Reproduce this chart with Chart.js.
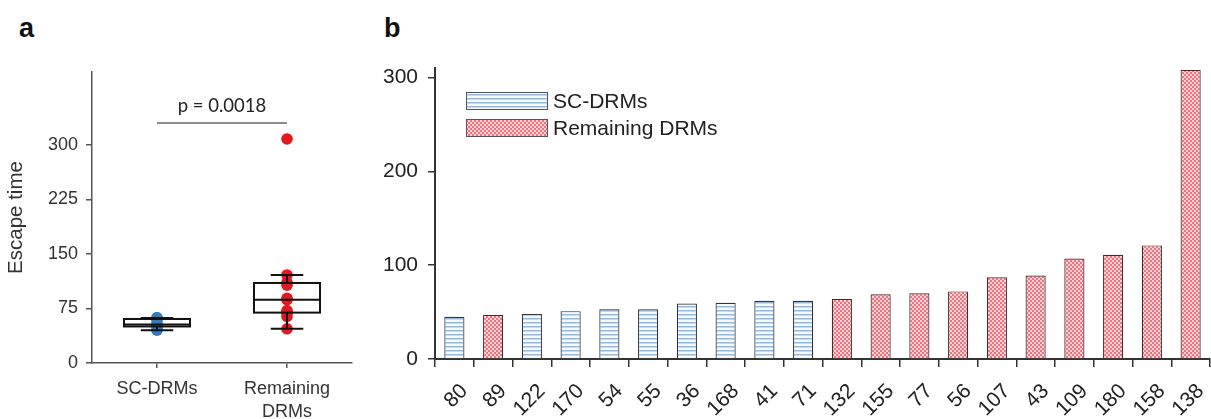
<!DOCTYPE html>
<html lang="en">
<head>
<meta charset="UTF-8">
<title>Escape time of DRMs</title>
<script src="https://cdn.jsdelivr.net/npm/chart.js"></script>
<style>
  html, body { margin: 0; padding: 0; background: #fff; }
  body { width: 1211px; height: 419px; position: relative; overflow: hidden; font-family: "Liberation Sans", Arial, sans-serif; }
  .panel-label { position: absolute; font-weight: bold; font-size: 27px; line-height: 27px; color: #111; }
  #wrapA { position: absolute; left: 0; top: 0; width: 360px; height: 419px; }
  #wrapB { position: absolute; left: 370px; top: 0; width: 841px; height: 419px; }
</style>
</head>
<body>
<div class="panel-label" style="left:19px;top:15px">a</div>
<div class="panel-label" style="left:384px;top:15px">b</div>
<div id="wrapA"><canvas id="chartA"></canvas></div>
<div id="wrapB"><canvas id="chartB"></canvas></div>

<script>
// DRMs in bar order, their escape time and group
var drmLabels = ['80', '89', '122', '170', '54', '55', '36', '168', '41', '71',
                 '132', '155', '77', '56', '107', '43', '109', '180', '158', '138'];
var escapeTimes = [45, 47, 48, 51, 53, 53, 59, 60, 62, 62,
                   64, 69, 70, 72, 87, 89, 107, 111, 121, 308];
var drmGroup = ['SC', 'R', 'SC', 'SC', 'SC', 'SC', 'SC', 'SC', 'SC', 'SC',
                'R', 'R', 'R', 'R', 'R', 'R', 'R', 'R', 'R', 'R'];

var groupKeys = ['SC', 'R'];
var groupNames = ['SC-DRMs', 'Remaining DRMs'];
var groupAxisLabels = ['SC-DRMs', ['Remaining', 'DRMs']];
var dotColors = ['#2f7cc2', '#e3191f'];

var ticksA = [0, 75, 150, 225, 300];
var ticksB = [0, 100, 200, 300];
var pText = 'p = 0.0018';
var pLevel = 330;

var FONT = '"Liberation Sans", Arial, sans-serif';
Chart.defaults.font.family = FONT;

// fill patterns for the bars
function stripes() {
  var c = document.createElement('canvas');
  c.width = 4; c.height = 4;
  var g = c.getContext('2d');
  g.fillStyle = '#f6f9fd';
  g.fillRect(0, 0, 4, 4);
  g.fillStyle = '#8dbbe6';
  g.fillRect(0, 2, 4, 1);
  g.fillStyle = '#c2daf2';
  g.fillRect(0, 3, 4, 1);
  return g.createPattern(c, 'repeat');
}
function checker() {
  var c = document.createElement('canvas');
  c.width = 4; c.height = 4;
  var g = c.getContext('2d');
  g.fillStyle = '#fbd2d6';
  g.fillRect(0, 0, 4, 4);
  g.fillStyle = '#f0737d';
  g.fillRect(0, 0, 2, 2);
  g.fillRect(2, 2, 2, 2);
  return g.createPattern(c, 'repeat');
}
var fills = [stripes(), checker()];

function valuesOf(key) {
  return escapeTimes.filter(function (v, i) { return drmGroup[i] === key; });
}

// quantile with (i - 0.5)/n positions, like matlab
function quantile(sorted, p) {
  var pos = p * sorted.length + 0.5;
  if (pos <= 1) return sorted[0];
  if (pos >= sorted.length) return sorted[sorted.length - 1];
  var lo = Math.floor(pos);
  return sorted[lo - 1] + (pos - lo) * (sorted[lo] - sorted[lo - 1]);
}

// ---------- panel a: boxes over the dots ----------
var boxPlugin = {
  id: 'boxPlugin',
  afterDatasetsDraw: function (chart) {
    var ctx = chart.ctx, xs = chart.scales.x, ys = chart.scales.y;
    ctx.save();
    ctx.strokeStyle = '#111';
    ctx.lineWidth = 2;
    groupKeys.forEach(function (key, gi) {
      var v = valuesOf(key).slice().sort(function (a, b) { return a - b; });
      var q1 = quantile(v, 0.25), med = quantile(v, 0.5), q3 = quantile(v, 0.75);
      var iqr = q3 - q1;
      var lo = v.filter(function (d) { return d >= q1 - 1.5 * iqr; })[0];
      var hiArr = v.filter(function (d) { return d <= q3 + 1.5 * iqr; });
      var hi = hiArr[hiArr.length - 1];
      var cx = xs.getPixelForValue(gi + 1);
      var bl = xs.getPixelForValue(gi + 1 - 0.254), br = xs.getPixelForValue(gi + 1 + 0.254);
      var cl = xs.getPixelForValue(gi + 1 - 0.125), cr = xs.getPixelForValue(gi + 1 + 0.125);
      ctx.beginPath();
      // whiskers
      ctx.moveTo(cx, ys.getPixelForValue(q3)); ctx.lineTo(cx, ys.getPixelForValue(hi));
      ctx.moveTo(cx, ys.getPixelForValue(q1)); ctx.lineTo(cx, ys.getPixelForValue(lo));
      ctx.moveTo(cl, ys.getPixelForValue(hi)); ctx.lineTo(cr, ys.getPixelForValue(hi));
      ctx.moveTo(cl, ys.getPixelForValue(lo)); ctx.lineTo(cr, ys.getPixelForValue(lo));
      // median
      ctx.moveTo(bl, ys.getPixelForValue(med)); ctx.lineTo(br, ys.getPixelForValue(med));
      ctx.stroke();
      ctx.strokeRect(bl, ys.getPixelForValue(q3), br - bl, ys.getPixelForValue(q1) - ys.getPixelForValue(q3));
    });
    // significance bar
    var py = ys.getPixelForValue(pLevel);
    ctx.strokeStyle = '#666';
    ctx.lineWidth = 1.5;
    ctx.beginPath();
    ctx.moveTo(xs.getPixelForValue(1), py);
    ctx.lineTo(xs.getPixelForValue(2), py);
    ctx.stroke();
    ctx.fillStyle = '#222';
    ctx.font = '18.5px Lato, "Open Sans", sans-serif';
    ctx.textAlign = 'center';
    ctx.textBaseline = 'alphabetic';
    ctx.fillText(pText, xs.getPixelForValue(1.5), py - 11);
    ctx.restore();
  }
};

var chartA = new Chart(document.getElementById('chartA'), {
  type: 'scatter',
  data: {
    datasets: groupKeys.map(function (key, gi) {
      return {
        label: groupNames[gi],
        data: valuesOf(key).map(function (v) { return { x: gi + 1, y: v }; }),
        pointRadius: 5.8,
        pointBorderWidth: 0,
        pointBackgroundColor: dotColors[gi]
      };
    })
  },
  options: {
    responsive: true,
    maintainAspectRatio: false,
    animation: false,
    layout: { padding: { top: 72, right: 8, left: 0, bottom: 0 } },
    plugins: { legend: { display: false }, tooltip: { enabled: false } },
    scales: {
      x: {
        type: 'linear', min: 0.5, max: 2.5,
        afterBuildTicks: function (s) { s.ticks = [{ value: 1 }, { value: 2 }]; },
        afterFit: function (s) { s.height = 56; },
        grid: { display: true, drawOnChartArea: false, drawTicks: true, tickLength: 5, color: '#555', lineWidth: 1.5 },
        border: { display: true, color: '#555', width: 1.5 },
        ticks: {
          padding: 9, color: '#333', font: { size: 18, lineHeight: 1.3 },
          callback: function (v) { return groupAxisLabels[v - 1]; }
        }
      },
      y: {
        min: 0, max: 400,
        afterBuildTicks: function (s) { s.ticks = ticksA.map(function (v) { return { value: v }; }); },
        afterFit: function (s) { s.width = 92; },
        grid: { display: true, drawOnChartArea: false, drawTicks: true, tickLength: 6, color: '#555', lineWidth: 1.5 },
        border: { display: true, color: '#555', width: 1.5 },
        ticks: { padding: 8, color: '#333', font: { size: 18 } },
        title: { display: true, text: 'Escape time', color: '#333', font: { size: 20.5 }, padding: { top: 4, bottom: 0 } }
      }
    }
  },
  plugins: [boxPlugin]
});

// ---------- panel b: bars ----------
var boxLegend = {
  id: 'boxLegend',
  afterDraw: function (chart) {
    var ctx = chart.ctx;
    ctx.save();
    chart.data.datasets.forEach(function (ds, i) {
      var x = 96, y = 92 + i * 27;
      ctx.fillStyle = ds.backgroundColor;
      ctx.fillRect(x, y, 82, 18);
      ctx.strokeStyle = '#555';
      ctx.lineWidth = 1;
      ctx.strokeRect(x + 0.5, y + 0.5, 81, 17);
      ctx.fillStyle = '#222';
      ctx.font = '21px ' + FONT;
      ctx.textBaseline = 'middle';
      ctx.textAlign = 'left';
      ctx.fillText(ds.label, x + 87, y + 10);
    });
    ctx.restore();
  }
};

var chartB = new Chart(document.getElementById('chartB'), {
  type: 'bar',
  data: {
    labels: drmLabels,
    datasets: groupKeys.map(function (key, gi) {
      return {
        label: groupNames[gi],
        data: escapeTimes.map(function (v, i) { return drmGroup[i] === key ? v : null; }),
        backgroundColor: fills[gi],
        borderColor: '#333',
        borderWidth: 1.2,
        categoryPercentage: 1,
        barPercentage: 0.52
      };
    })
  },
  options: {
    responsive: true,
    maintainAspectRatio: false,
    animation: false,
    layout: { padding: { top: 68, right: 1, left: 0, bottom: 0 } },
    plugins: { legend: { display: false }, tooltip: { enabled: false } },
    scales: {
      x: {
        stacked: true,
        afterFit: function (s) { s.height = 60; s.paddingLeft = 0; s.paddingRight = 0; },
        grid: { display: true, drawOnChartArea: false, drawTicks: true, tickLength: 8, color: '#333', lineWidth: 1.5 },
        border: { display: true, color: '#333', width: 2 },
        ticks: { autoSkip: false, minRotation: 45, maxRotation: 45, padding: 12, labelOffset: 10, color: '#222', font: { size: 21 } }
      },
      y: {
        stacked: true, min: 0, max: 310,
        afterBuildTicks: function (s) { s.ticks = ticksB.map(function (v) { return { value: v }; }); },
        afterFit: function (s) { s.width = 65; },
        grid: { display: true, drawOnChartArea: false, drawTicks: true, tickLength: 7, color: '#333', lineWidth: 1.5 },
        border: { display: true, color: '#333', width: 2 },
        ticks: { padding: 10, color: '#222', font: { size: 21 } }
      }
    }
  },
  plugins: [boxLegend]
});
</script>
</body>
</html>
